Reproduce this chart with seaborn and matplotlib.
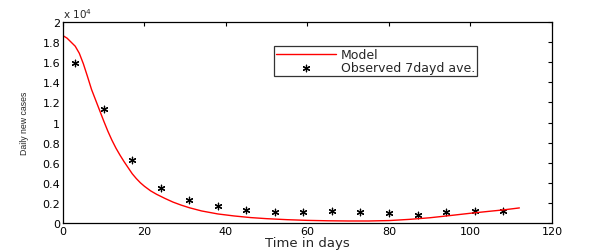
import numpy as np
import pandas as pd
import seaborn as sns
import matplotlib.pyplot as plt
from matplotlib.ticker import FuncFormatter

# model curve (cases)
model_t = [0, 1, 2, 3, 4, 5, 6, 7, 8, 9, 10, 11, 12, 13, 14, 15, 16, 17, 18, 19, 20,
           21.5, 23, 25, 27, 29, 31, 34, 38, 42, 46, 50, 55, 60, 65, 70, 75, 80,
           85, 90, 95, 100, 105, 108, 112]
model_cases = [18650, 18400, 18000, 17600, 16900, 15850, 14600, 13300, 12250, 11200,
               10150, 9150, 8250, 7450, 6750, 6100, 5500, 4900, 4420, 4000, 3650,
               3200, 2850, 2450, 2080, 1780, 1520, 1200, 900, 700, 540, 430, 330,
               260, 220, 200, 200, 240, 360, 520, 740, 970, 1180, 1300, 1500]

# observed 7 day average
obs_t = [3, 10, 17, 24, 31, 38, 45, 52, 59, 66, 73, 80, 87, 94, 101, 108]
obs_cases = [15900, 11300, 6300, 3450, 2320, 1720, 1320, 1060, 1130, 1160,
             1060, 1000, 830, 1130, 1230, 1160]

model = pd.DataFrame({"t": model_t, "cases": model_cases})
obs = pd.DataFrame({"t": obs_t, "cases": obs_cases})

sns.set_style("white")
plt.rcParams['font.family'] = ['DejaVu Sans']

fig = plt.figure(figsize=(5.97, 2.51), dpi=100)
ax = fig.add_axes([0.1055, 0.1076, 0.8191, 0.8004])

sns.lineplot(data=model, x="t", y="cases", color="red", lw=1.0, ax=ax, label="Model")
sns.scatterplot(data=obs, x="t", y="cases", marker=(6, 2, 0), s=22, color="black",
                edgecolor="black", linewidth=0.9, ax=ax, label="Observed 7dayd ave.")

ax.set_xlim(0, 120)
ax.set_ylim(0, 20000)
ax.set_xticks(np.arange(0, 121, 20))
ax.set_yticks(np.arange(0, 20001, 2000))
ax.yaxis.set_major_formatter(FuncFormatter(lambda v, p: "%g" % round(v / 1e4, 1)))
ax.text(0.0, 1.012, "x 10$^4$", transform=ax.transAxes, fontsize=7.5, ha="left", va="bottom")

ax.set_xlabel("Time in days", fontsize=9.5, labelpad=0)
ax.set_ylabel("Daily new cases", fontsize=6.3, family="Liberation Sans", labelpad=10)

ax.tick_params(direction="in", top=True, right=True, length=3, width=0.8,
               labelsize=8, pad=2, colors="black")
for sp in ax.spines.values():
    sp.set_color("black")
    sp.set_linewidth(0.9)

leg = ax.legend(loc="upper left", bbox_to_anchor=(0.431, 0.88), fontsize=9,
                frameon=True, fancybox=False, borderpad=0.15, labelspacing=0.0,
                handlelength=4.8, handletextpad=0.4, borderaxespad=0)
leg.get_frame().set_edgecolor("black")
leg.get_frame().set_linewidth(0.9)

fig.savefig("out.png", dpi=100)
